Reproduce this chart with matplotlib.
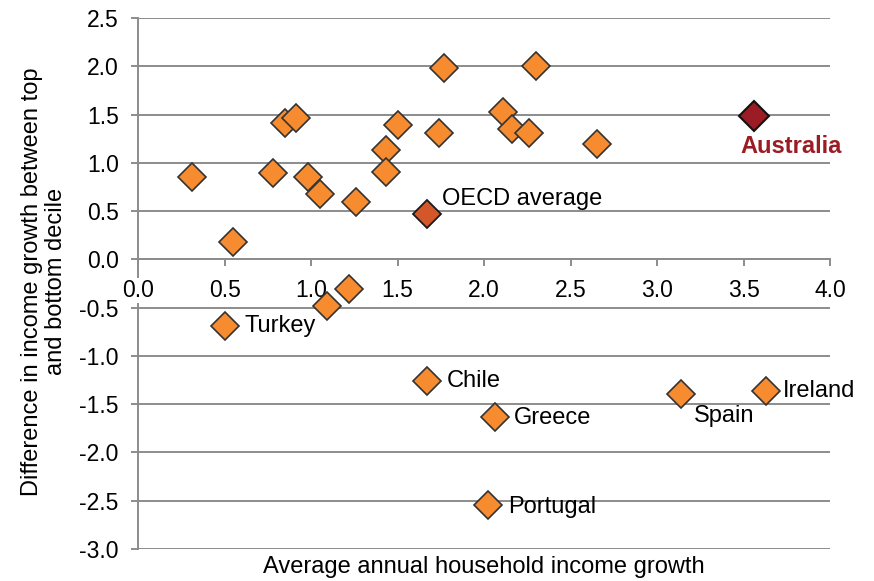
import matplotlib
matplotlib.use("Agg")
import matplotlib.pyplot as plt
from matplotlib.ticker import MultipleLocator, FormatStrFormatter

plt.rcParams['font.family'] = ['Liberation Sans', 'DejaVu Sans']
plt.rcParams['axes.unicode_minus'] = False

# OECD countries: average annual household income growth vs
# difference in growth between top and bottom decile
income_growth = [0.31, 0.55, 0.78, 0.85, 0.91, 0.98, 1.05, 1.26, 1.43, 1.43,
                 1.50, 1.77, 2.30, 1.74, 2.11, 2.16, 2.26, 2.65,
                 1.22, 1.09, 0.50, 1.67, 2.06, 2.02, 3.14, 3.63]
decile_gap = [0.85, 0.18, 0.89, 1.41, 1.46, 0.85, 0.68, 0.59, 1.13, 0.90,
              1.39, 1.98, 2.00, 1.31, 1.53, 1.35, 1.31, 1.19,
              -0.31, -0.48, -0.69, -1.26, -1.63, -2.54, -1.39, -1.36]
country_labels = [None] * 20 + ['Turkey', 'Chile', 'Greece', 'Portugal',
                                'Spain', 'Ireland']
# label offsets in points from the marker
label_offsets = {'Turkey': (14, 0), 'Chile': (14, 0), 'Greece': (14, -1),
                 'Portugal': (15, -2), 'Spain': (9, -16), 'Ireland': (12, 0)}

oecd_avg = (1.67, 0.47)
australia = (3.56, 1.49)

fig = plt.figure(figsize=(8.74, 5.81), dpi=100)
ax = fig.add_axes([0.158, 0.055, 0.792, 0.914])

grey = '#8c8c8c'
ax.set_xlim(0, 4.0)
ax.set_ylim(-3.0, 2.5)
ax.xaxis.set_major_locator(MultipleLocator(0.5))
ax.yaxis.set_major_locator(MultipleLocator(0.5))
ax.xaxis.set_major_formatter(FormatStrFormatter('%.1f'))
ax.yaxis.set_major_formatter(FormatStrFormatter('%.1f'))
ax.grid(axis='y', color=grey, lw=1.4)
ax.set_axisbelow(True)

for s in ['top', 'right']:
    ax.spines[s].set_visible(False)
ax.spines['bottom'].set_position(('data', 0))
ax.spines['bottom'].set_color(grey)
ax.spines['bottom'].set_linewidth(1.4)
ax.spines['left'].set_color(grey)
ax.spines['left'].set_linewidth(1.4)
ax.tick_params(axis='both', colors=grey, labelcolor='black', labelsize=16.5,
               length=5, width=1.4)
ax.tick_params(axis='x', pad=9)
ax.tick_params(axis='y', pad=9)

# x tick labels sit on white so the left spine does not cut through "0.0"
ax.xaxis.set_zorder(2.6)
for lbl in ax.get_xticklabels():
    lbl.set_bbox(dict(fc='white', ec='none', pad=0.5))

ax.plot(income_growth, decile_gap, ls='none', marker='D', ms=14,
        mfc='#f68b2f', mec='#333333', mew=1.2, zorder=3)
ax.plot(*oecd_avg, ls='none', marker='D', ms=14, mfc='#d4572a',
        mec='#1a1a1a', mew=1.3, zorder=3)
ax.plot(*australia, ls='none', marker='D', ms=15.5, mfc='#9b1c24',
        mec='#111111', mew=1.5, zorder=3)

for x, y, name in zip(income_growth, decile_gap, country_labels):
    if name is None:
        continue
    dx, dy = label_offsets[name]
    ax.annotate(name, (x, y), xytext=(dx, dy), textcoords='offset points',
                ha='left', va='center', fontsize=17)

ax.annotate('OECD average', oecd_avg, xytext=(11, 11),
            textcoords='offset points', ha='left', va='center', fontsize=17)
ax.annotate('Australia', australia, xytext=(-10, -22),
            textcoords='offset points', ha='left', va='center', fontsize=17,
            fontweight='bold', color='#9b1c24')

ax.set_xlabel('Average annual household income growth', fontsize=17,
              labelpad=0)
ax.xaxis.set_label_coords(0.5, -0.014)
ax.set_ylabel('Difference in income growth between top\nand bottom decile',
              fontsize=17, linespacing=1.15)
ax.yaxis.set_label_coords(-0.102, 0.503)

fig.savefig('out.png', dpi=100)
